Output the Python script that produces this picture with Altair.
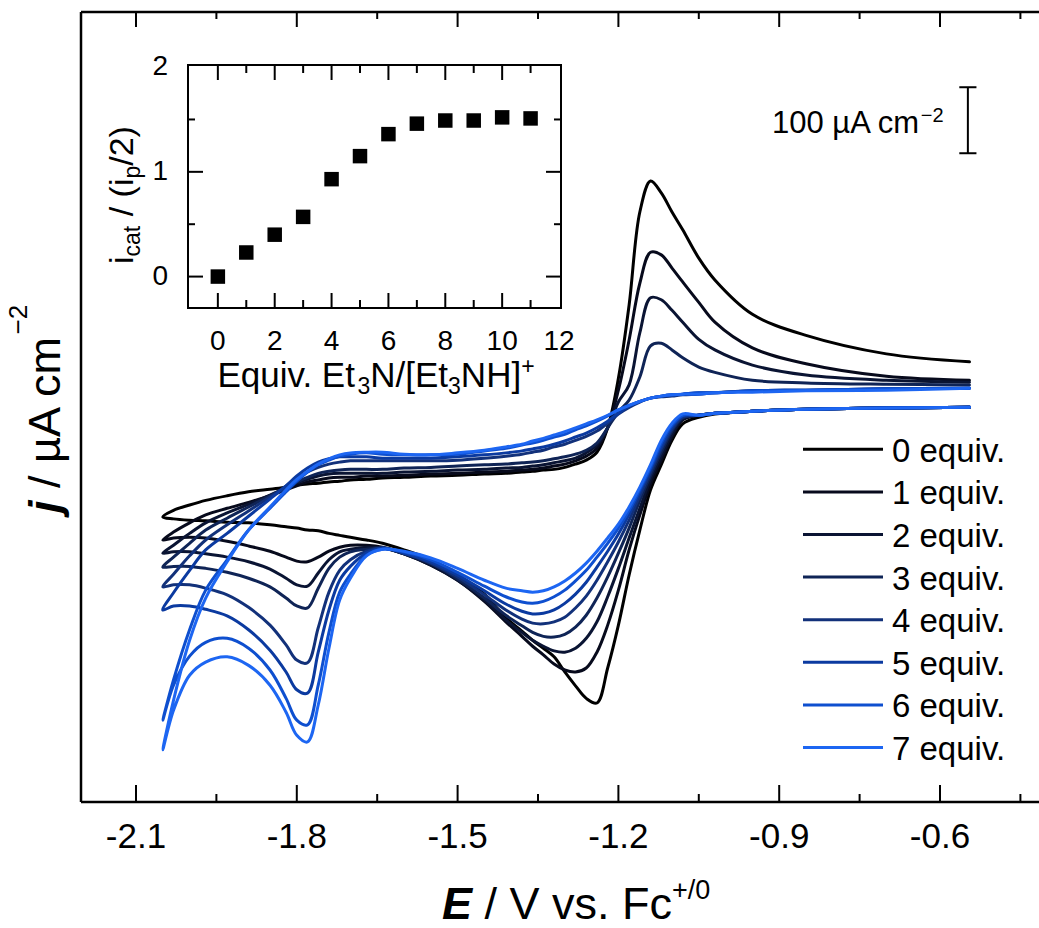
import altair as alt
import pandas as pd

FONT = "Liberation Sans"

# ---------------------------------------------------------------------------
# Cyclic voltammograms: current density j (uA cm^-2) against E (V vs Fc+/0).
# The cathodic sweep runs over E_SWEEP from -0.545 V to the -2.05 V vertex;
# the anodic return runs back over the same grid, starting one step after it.
# ---------------------------------------------------------------------------
E_SWEEP = [-0.545, -0.70, -0.85, -0.95, -1.02, -1.05, -1.08, -1.10, -1.12, -1.14,
           -1.16, -1.18, -1.20, -1.22, -1.24, -1.26, -1.28, -1.30, -1.32, -1.34,
           -1.36, -1.38, -1.41, -1.45, -1.50, -1.55, -1.60, -1.64, -1.67, -1.70,
           -1.72, -1.74, -1.76, -1.78, -1.80, -1.82, -1.85, -1.89, -1.93, -1.97,
           -2.00, -2.03, -2.05]

J_CATHODIC = [
    [-11, -12, -14, -17, -21, -26, -36, -61, -98, -136, -197, -265, -341, -406, -459, -452, -433, -412, -389, -376,
     -364, -350, -330, -294, -265, -242, -227, -217, -212, -208, -205, -202, -198, -197, -194, -192, -189, -186,
     -185, -183, -182, -180, -177],
    [-11, -12, -14, -17, -20, -23, -30, -56, -91, -127, -174, -227, -288, -341, -382, -406, -412, -409, -400, -386,
     -373, -358, -336, -305, -273, -250, -233, -223, -220, -220, -223, -229, -238, -245, -244, -238, -229, -221,
     -214, -209, -208, -209, -212],
    [-11, -12, -14, -17, -20, -23, -29, -52, -85, -120, -164, -209, -255, -298, -336, -361, -376, -382, -380, -373,
     -364, -352, -333, -303, -273, -250, -233, -224, -223, -226, -230, -242, -262, -282, -280, -270, -256, -245,
     -238, -233, -230, -230, -232],
    [-11, -12, -14, -17, -20, -23, -27, -47, -79, -114, -152, -194, -232, -268, -300, -326, -344, -355, -359, -358,
     -352, -342, -326, -300, -271, -248, -233, -224, -226, -230, -238, -255, -285, -315, -312, -300, -283, -270,
     -261, -255, -252, -252, -253],
    [-11, -12, -14, -17, -20, -23, -26, -44, -74, -109, -145, -182, -215, -245, -273, -297, -315, -329, -336, -339,
     -338, -332, -318, -295, -268, -247, -232, -224, -229, -242, -258, -291, -345, -398, -394, -371, -341, -314,
     -295, -285, -280, -280, -283],
    [-11, -12, -14, -17, -20, -23, -24, -41, -70, -105, -139, -173, -203, -229, -253, -276, -294, -308, -318, -323,
     -324, -320, -309, -289, -265, -245, -232, -224, -232, -252, -273, -318, -382, -444, -439, -412, -379, -348,
     -327, -317, -312, -312, -318],
    [-11, -12, -14, -17, -20, -23, -23, -38, -65, -102, -135, -167, -194, -217, -238, -258, -274, -288, -298, -305,
     -308, -306, -298, -282, -261, -242, -230, -226, -235, -264, -291, -352, -432, -492, -485, -452, -409, -376,
     -361, -367, -388, -432, -485],
    [-11, -12, -14, -17, -20, -23, -21, -35, -61, -98, -132, -162, -188, -209, -229, -247, -262, -274, -283, -289,
     -291, -289, -285, -273, -255, -239, -229, -226, -236, -270, -303, -376, -462, -518, -508, -473, -432, -402,
     -389, -397, -417, -470, -530],
]

J_ANODIC = [
    [-167, -159, -152, -145, -139, -135, -132, -129, -127, -126, -124, -123, -121, -120, -118, -117, -115, -114,
     -112, -111, -109, -108, -106, -105, -102, -97, -91, -79, -42, 33, 144, 285, 332, 314, 285, 258, 215, 182, 130,
     98, 70, 58],
    [-200, -186, -174, -164, -155, -145, -136, -130, -124, -121, -118, -117, -117, -115, -115, -114, -112, -111,
     -109, -108, -106, -105, -103, -100, -97, -92, -85, -73, -42, 15, 91, 177, 224, 220, 200, 179, 148, 118, 79,
     55, 36, 30],
    [-220, -202, -186, -171, -158, -144, -133, -126, -120, -115, -112, -111, -111, -111, -111, -109, -108, -106,
     -105, -103, -102, -100, -98, -95, -92, -88, -80, -68, -42, -3, 23, 102, 155, 152, 136, 118, 92, 76, 53, 38,
     30, 27],
    [-238, -217, -197, -179, -162, -145, -133, -124, -117, -111, -108, -106, -105, -105, -105, -103, -102, -100,
     -98, -97, -95, -94, -92, -89, -86, -82, -76, -65, -42, -18, 0, 35, 82, 86, 76, 64, 50, 42, 30, 26, 24, 23],
    [-264, -236, -212, -189, -168, -147, -130, -118, -109, -102, -97, -94, -92, -92, -92, -92, -92, -91, -88, -85,
     -82, -79, -76, -71, -67, -61, -55, -47, -35, -21, -11, -3, 3, 5, 6, 8, 9, 11, 14, 15, 17, 18],
    [-292, -258, -227, -202, -176, -150, -130, -115, -103, -94, -89, -86, -86, -86, -88, -88, -88, -86, -83, -80,
     -77, -74, -71, -67, -62, -56, -50, -42, -32, -20, -9, -2, 3, 6, 8, 9, 11, 11, 14, 15, 17, 18],
    [-424, -348, -288, -242, -197, -164, -139, -123, -109, -98, -91, -85, -82, -80, -82, -83, -83, -82, -77, -73,
     -68, -65, -61, -56, -52, -45, -39, -32, -24, -15, -8, -2, 3, 6, 8, 9, 11, 11, 14, 15, 17, 18],
    [-455, -364, -300, -245, -197, -162, -136, -120, -108, -97, -89, -83, -80, -79, -79, -82, -83, -80, -76, -71,
     -67, -62, -58, -53, -48, -42, -36, -30, -23, -15, -8, -2, 3, 6, 8, 9, 9, 11, 12, 14, 15, 18],
]

SERIES = [f"{n} equiv." for n in range(8)]
COLORS = ["#000000", "#070a1c", "#0a1433", "#0f2456", "#12317a", "#0b3aa0", "#0e4fcf", "#1d66f2"]

# Titration inset: catalytic current ratio vs equivalents of buffer
EQUIV = list(range(12))
RATIO = [0.0, 0.23, 0.40, 0.57, 0.93, 1.15, 1.36, 1.46, 1.49, 1.49, 1.52, 1.51]

# Axis ticks and labels
E_MAJOR = [-2.1, -1.8, -1.5, -1.2, -0.9, -0.6]
E_MINOR = [-1.95, -1.65, -1.35, -1.05, -0.75, -0.45]
E_LABELS = ["-2.1", "-1.8", "-1.5", "-1.2", "-0.9", "-0.6"]
IN_X_MAJOR = [0, 2, 4, 6, 8, 10]
IN_X_MINOR = [1, 3, 5, 7, 9, 11]
IN_X_LABELS = [0, 2, 4, 6, 8, 10, 12]
IN_Y_MAJOR = [0, 1]
IN_Y_MINOR = [0.5, 1.5]
IN_Y_LABELS = [0, 1, 2]

# Scale bar: 100 uA cm^-2
BAR_E = -0.548
BAR_TOP = 474
BAR_LEN = 100

# ---------------------------------------------------------------------------
# Layout
# ---------------------------------------------------------------------------
W, H = 958, 790
E_DOMAIN = [-2.2026, -0.4153]
J_DOMAIN = [-609, 588]
IN_X_DOMAIN = [-1.05, 12.07]
IN_Y_DOMAIN = [-0.3, 2.02]
IN_LEFT, IN_RIGHT, IN_TOP, IN_BOTTOM = 107, 480, 53, 296

xs = alt.Scale(domain=E_DOMAIN, nice=False, zero=False)
ys = alt.Scale(domain=J_DOMAIN, nice=False, zero=False)
ixs = alt.Scale(domain=IN_X_DOMAIN, range=[IN_LEFT, IN_RIGHT], nice=False, zero=False)
iys = alt.Scale(domain=IN_Y_DOMAIN, range=[IN_BOTTOM, IN_TOP], nice=False, zero=False)
color = alt.Color("series:N", scale=alt.Scale(domain=SERIES, range=COLORS), legend=None)

# Arial-metric advance widths (1/1000 em) for laying out mixed-style titles
ADV = {" ": 278, ".": 278, "/": 278, "(": 333, ")": 333, "[": 278, "]": 278, "+": 584,
       "\u2212": 584, "-": 333, "A": 667, "E": 667, "F": 611, "H": 722, "N": 722, "V": 667,
       "a": 556, "c": 500, "e": 556, "i": 222, "j": 222, "m": 833, "p": 556, "q": 556,
       "s": 500, "t": 278, "u": 556, "v": 500, "\u00b5": 576}
ADV_BI = {"E": 667, "j": 278}


def advance(text, size, bold=False):
    table = ADV_BI if bold else {}
    return sum(table.get(ch, ADV.get(ch, 556)) for ch in text) * size / 1000.0


def rich_text(pieces, x0, y0, angle=0, align="left"):
    """pieces: (text, size, rise, weight, style); returns one text layer per piece.

    Text marks trim surrounding blanks, so a piece's leading blanks become an
    offset of its anchor instead.
    """
    total = sum(advance(t, s, w == "bold") for t, s, _, w, _ in pieces)
    if angle == 0:
        start = x0 - total / 2 if align == "center" else x0
    else:
        start = y0 + total / 2 if align == "center" else y0
    out = []
    cum = 0.0
    for text, size, rise, weight, style in pieces:
        body = text.lstrip(" ")
        lead = advance(text[: len(text) - len(body)], size)
        if angle == 0:
            px, py = start + cum + lead, y0 - rise
        else:
            px, py = x0 - rise, start - cum - lead
        out.append(
            alt.Chart(pd.DataFrame({"t": [body]}))
            .mark_text(font=FONT, fontSize=size, fontWeight=weight, fontStyle=style,
                       align="left", baseline="alphabetic", angle=angle, color="black")
            .encode(x=alt.value(px), y=alt.value(py), text="t:N")
        )
        cum += advance(text, size, weight == "bold")
    return out


def frame_rule(x0, x1, y0, y1, width=2.5):
    return alt.Chart(pd.DataFrame({"a": [0]})).mark_rule(color="black", strokeWidth=width).encode(
        x=alt.value(x0), x2=alt.value(x1), y=alt.value(y0), y2=alt.value(y1))


# ---------------------------------------------------------------------------
# Main voltammogram panel
# ---------------------------------------------------------------------------
rows = []
for k, name in enumerate(SERIES):
    step = 0
    for e, j in zip(E_SWEEP, J_CATHODIC[k]):
        rows.append({"series": name, "step": step, "E": e, "j": j})
        step += 1
    for e, j in zip(E_SWEEP[-2::-1], J_ANODIC[k]):
        rows.append({"series": name, "step": step, "E": e, "j": j})
        step += 1
cv = pd.DataFrame(rows)

curves = alt.Chart(cv).mark_line(strokeWidth=3, interpolate="catmull-rom",
                                 strokeJoin="round", strokeCap="round").encode(
    x=alt.X("E:Q", scale=xs, axis=None),
    y=alt.Y("j:Q", scale=ys, axis=None),
    color=color,
    detail="series:N",
    order=alt.Order("step:Q"),
)

# open frame: left, bottom and top edges (the right edge lies beyond the view)
frame_lines = [frame_rule(0, 0, 0, H), frame_rule(0, W, H, H), frame_rule(0, W, 0, 0)]


def e_ticks(values, y0, y1):
    return alt.Chart(pd.DataFrame({"E": values})).mark_rule(color="black", strokeWidth=2).encode(
        x=alt.X("E:Q", scale=xs, axis=None), y=alt.value(y0), y2=alt.value(y1))


main_ticks = [
    e_ticks(E_MAJOR, H, H - 17), e_ticks(E_MINOR, H, H - 8),
    e_ticks(E_MAJOR, 0, 15), e_ticks(E_MINOR, 0, 7),
]

e_labels = alt.Chart(pd.DataFrame({"E": E_MAJOR, "lab": E_LABELS})).mark_text(
    font=FONT, fontSize=35, align="center", baseline="alphabetic", color="black").encode(
    x=alt.X("E:Q", scale=xs, axis=None), y=alt.value(H + 46), text="lab:N")

bar_df = pd.DataFrame({"E": [BAR_E], "e0": [BAR_E - 0.016], "e1": [BAR_E + 0.016],
                       "top": [BAR_TOP], "bot": [BAR_TOP - BAR_LEN]})
bar_v = alt.Chart(bar_df).mark_rule(color="black", strokeWidth=2).encode(
    x=alt.X("E:Q", scale=xs, axis=None), y=alt.Y("top:Q", scale=ys, axis=None), y2="bot:Q")
bar_cap_t = alt.Chart(bar_df).mark_rule(color="black", strokeWidth=2).encode(
    x=alt.X("e0:Q", scale=xs, axis=None), x2="e1:Q", y=alt.Y("top:Q", scale=ys, axis=None))
bar_cap_b = alt.Chart(bar_df).mark_rule(color="black", strokeWidth=2).encode(
    x=alt.X("e0:Q", scale=xs, axis=None), x2="e1:Q", y=alt.Y("bot:Q", scale=ys, axis=None))

# Legend drawn as a column of line samples
LEG_Y0, LEG_DY = 437.3, 42.6
leg_df = pd.DataFrame({"series": SERIES,
                       "ly": [LEG_Y0 + LEG_DY * i for i in range(len(SERIES))]})
leg_df["ty"] = leg_df["ly"] + 12.4
leg_lines = alt.Chart(leg_df).mark_rule(strokeWidth=3).encode(
    x=alt.value(722), x2=alt.value(802), y=alt.Y("ly:Q", scale=None, axis=None), color=color)
leg_text = alt.Chart(leg_df).mark_text(font=FONT, fontSize=33, align="left",
                                       baseline="alphabetic", color="black").encode(
    x=alt.value(811), y=alt.Y("ty:Q", scale=None, axis=None), text="series:N")

titles = []
titles += rich_text([("E", 45, 0, "bold", "italic"),
                     (" / V vs. Fc", 45, 0, "normal", "normal"),
                     ("+/0", 27, 20, "normal", "normal")], 361, 907)
titles += rich_text([("j", 45, 0, "bold", "italic"),
                     (" / \u00b5A cm", 45, 0, "normal", "normal"),
                     ("\u22122", 26, 33, "normal", "normal")], -21, 501, angle=270)
titles += rich_text([("100 \u00b5A cm", 31, 0, "normal", "normal"),
                     ("\u22122", 20, 11, "normal", "normal")], 691, 121)

main = alt.layer(curves, *frame_lines, *main_ticks, e_labels, bar_v, bar_cap_t, bar_cap_b,
                 leg_lines, leg_text, *titles)

# ---------------------------------------------------------------------------
# Inset: titration curve
# ---------------------------------------------------------------------------
frame = alt.Chart(pd.DataFrame({"x0": [IN_X_DOMAIN[0]], "x1": [IN_X_DOMAIN[1]],
                                "y0": [IN_Y_DOMAIN[0]], "y1": [IN_Y_DOMAIN[1]]})).mark_rect(
    fillOpacity=0, stroke="black", strokeWidth=2).encode(
    x=alt.X("x0:Q", scale=ixs, axis=None), x2="x1:Q",
    y=alt.Y("y0:Q", scale=iys, axis=None), y2="y1:Q")

squares = alt.Chart(pd.DataFrame({"n": EQUIV, "r": RATIO})).mark_square(
    size=210, color="black", opacity=1).encode(
    x=alt.X("n:Q", scale=ixs, axis=None), y=alt.Y("r:Q", scale=iys, axis=None))


def in_xticks(values, y0, y1):
    return alt.Chart(pd.DataFrame({"n": values})).mark_rule(color="black", strokeWidth=2).encode(
        x=alt.X("n:Q", scale=ixs, axis=None), y=alt.value(y0), y2=alt.value(y1))


def in_yticks(values, x0, x1):
    return alt.Chart(pd.DataFrame({"r": values})).mark_rule(color="black", strokeWidth=2).encode(
        y=alt.Y("r:Q", scale=iys, axis=None), x=alt.value(x0), x2=alt.value(x1))


inset_ticks = [
    in_xticks(IN_X_MAJOR, IN_BOTTOM, IN_BOTTOM - 15), in_xticks(IN_X_MINOR, IN_BOTTOM, IN_BOTTOM - 8),
    in_xticks(IN_X_MAJOR, IN_TOP, IN_TOP + 15), in_xticks(IN_X_MINOR, IN_TOP, IN_TOP + 8),
    in_yticks(IN_Y_MAJOR, IN_LEFT, IN_LEFT + 15), in_yticks(IN_Y_MINOR, IN_LEFT, IN_LEFT + 7),
    in_yticks(IN_Y_MAJOR, IN_RIGHT, IN_RIGHT - 15), in_yticks(IN_Y_MINOR, IN_RIGHT, IN_RIGHT - 7),
]

in_xlab = alt.Chart(pd.DataFrame({"n": IN_X_LABELS, "lab": [str(v) for v in IN_X_LABELS]})).mark_text(
    font=FONT, fontSize=28, align="center", baseline="alphabetic", color="black").encode(
    x=alt.X("n:Q", scale=ixs, axis=None), y=alt.value(IN_BOTTOM + 42), text="lab:N")
in_ylab = alt.Chart(pd.DataFrame({"r": IN_Y_LABELS, "lab": [str(v) for v in IN_Y_LABELS]})).mark_text(
    font=FONT, fontSize=28, align="right", baseline="middle", color="black").encode(
    y=alt.Y("r:Q", scale=iys, axis=None), x=alt.value(IN_LEFT - 20), text="lab:N")

in_titles = []
in_titles += rich_text([("Equiv. Et", 35, 0, "normal", "normal"),
                        ("3", 23, -7, "normal", "normal"),
                        ("N/[Et", 35, 0, "normal", "normal"),
                        ("3", 23, -7, "normal", "normal"),
                        ("NH]", 35, 0, "normal", "normal"),
                        ("+", 23, 13, "normal", "normal")], 295, 375, align="center")
in_titles += rich_text([("i", 34, 0, "normal", "normal"),
                        ("cat", 23, -7, "normal", "normal"),
                        (" / (i", 34, 0, "normal", "normal"),
                        ("p", 23, -7, "normal", "normal"),
                        ("/2)", 34, 0, "normal", "normal")], 52, 252, angle=270)

inset = alt.layer(frame, squares, *inset_ticks, in_xlab, in_ylab, *in_titles)

chart = (
    alt.layer(main, inset)
    .resolve_scale(x="independent", y="independent")
    .properties(width=W, height=H,
                autosize=alt.AutoSizeParams(type="none"),
                padding={"left": 81, "top": 12, "right": 0, "bottom": 126})
    .configure_view(stroke=None)
    .configure_axis(grid=False)
)

chart.save("out.html", embed_options={"renderer": "svg", "actions": False})
